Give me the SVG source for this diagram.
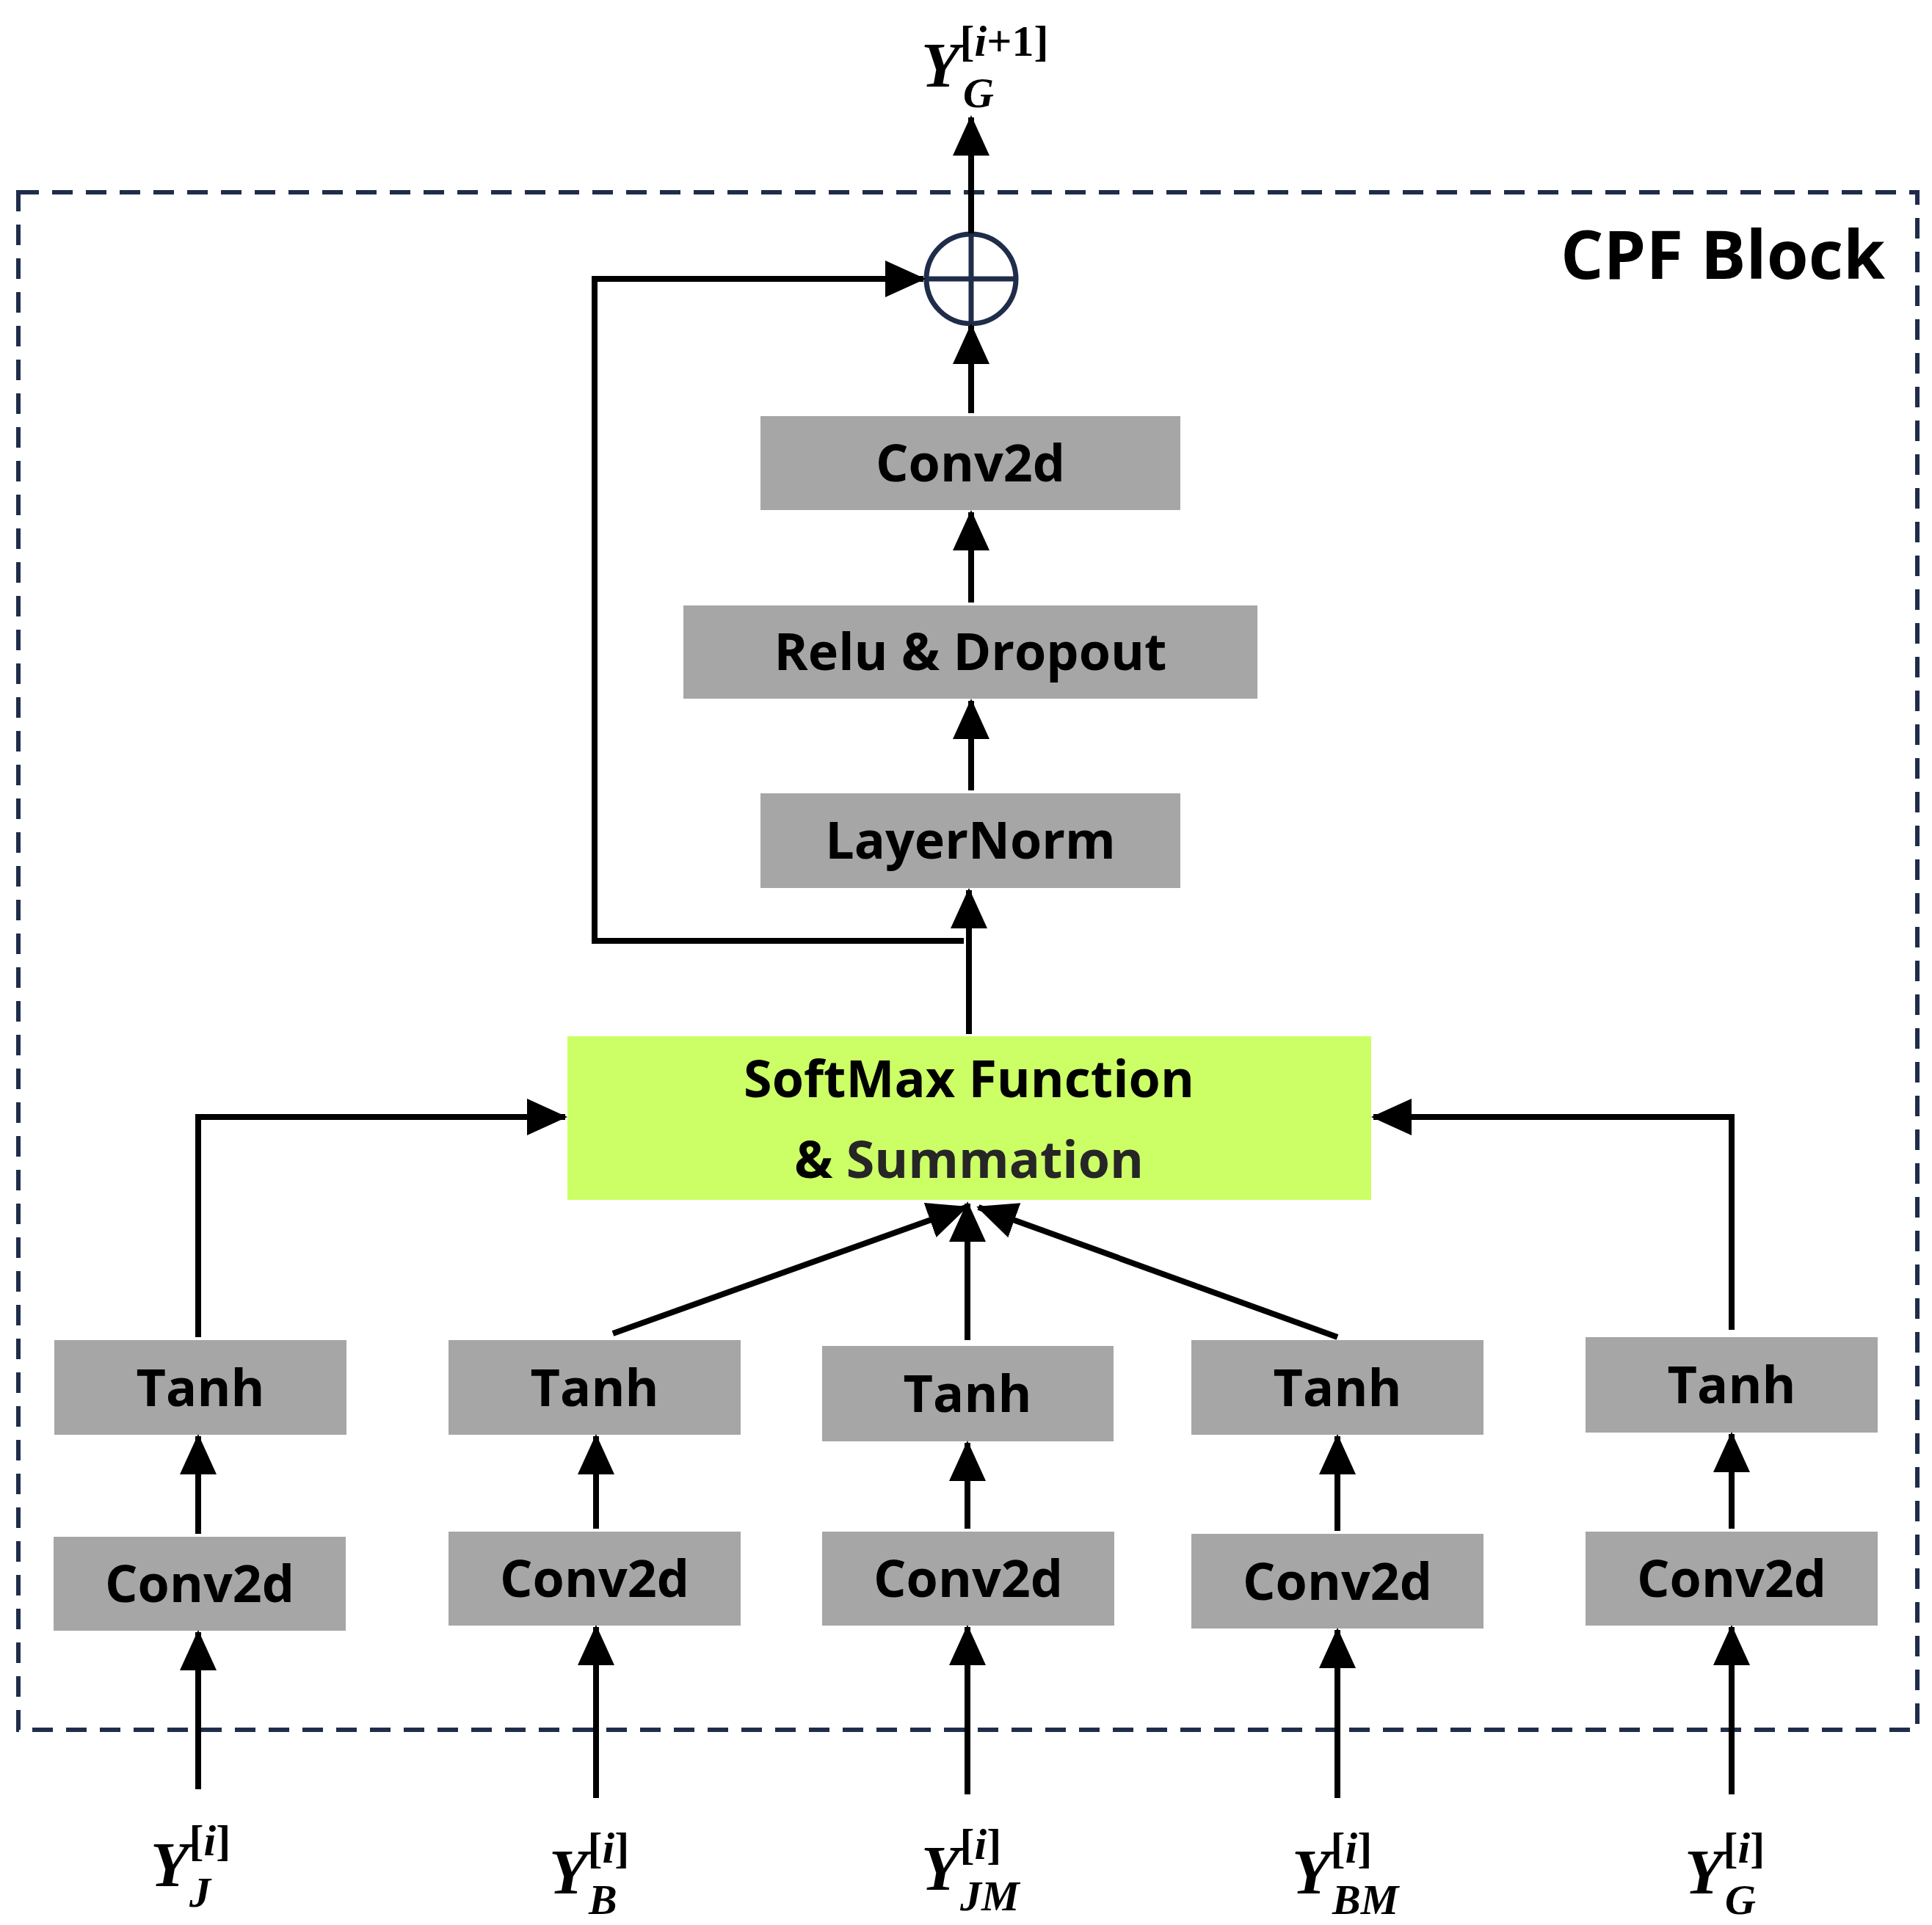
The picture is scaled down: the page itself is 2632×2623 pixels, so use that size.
<svg xmlns="http://www.w3.org/2000/svg" width="2632" height="2623" viewBox="0 0 2632 2623">
<style>
.box{fill:#A6A6A6}
.lbl{font-family:"Open Sans","Liberation Sans",sans-serif;font-weight:bold;font-size:70px;fill:#000;text-anchor:middle}
.ln{fill:none;stroke:#000;stroke-width:8}
.m{font-family:"Liberation Serif",serif;font-weight:bold;font-style:italic;font-size:86px;fill:#000}
.u{font-style:normal}
</style>
<defs>
<marker id="ah" markerUnits="userSpaceOnUse" markerWidth="60" markerHeight="60" viewBox="0 0 60 60" refX="52" refY="30" orient="auto">
<path d="M0,5 L55,30 L0,55 Z" fill="#000"/>
</marker>
</defs>
<rect width="2632" height="2623" fill="#fff"/>
<rect x="25" y="262" width="2587" height="2095" fill="none" stroke="#1F2D4A" stroke-width="6" stroke-dasharray="28,18"/>
<text x="2568" y="380" font-family="Open Sans, Liberation Sans, sans-serif" font-weight="bold" font-size="92" text-anchor="end">CPF Block</text>

<g id="conv_top"><rect class="box" x="1036" y="567" width="572" height="128"/><text class="lbl" x="1322" y="656">Conv2d</text></g>
<g id="relu"><rect class="box" x="931" y="825" width="782" height="127"/><text class="lbl" x="1322" y="913">Relu &amp; Dropout</text></g>
<g id="layernorm"><rect class="box" x="1036" y="1081" width="572" height="129"/><text class="lbl" x="1322" y="1170">LayerNorm</text></g>
<g id="softmax"><rect x="773" y="1412" width="1095" height="223" fill="#CCFF66"/><text class="lbl" x="1320" y="1495">SoftMax Function</text><text class="lbl" x="1320" y="1605">&amp; <tspan fill="#262626">Summation</tspan></text></g>
<g id="sum"><circle cx="1323" cy="380" r="61" fill="none" stroke="#1F2D4A" stroke-width="7"/><line x1="1262" y1="380" x2="1384" y2="380" stroke="#1F2D4A" stroke-width="7"/><line x1="1323" y1="319" x2="1323" y2="441" stroke="#1F2D4A" stroke-width="7"/></g>

<g id="tanh1"><rect class="box" x="74" y="1826" width="398" height="129"/><text class="lbl" x="273" y="1916">Tanh</text></g>
<g id="tanh2"><rect class="box" x="611" y="1826" width="398" height="129"/><text class="lbl" x="810" y="1916">Tanh</text></g>
<g id="tanh3"><rect class="box" x="1120" y="1834" width="397" height="130"/><text class="lbl" x="1318" y="1924">Tanh</text></g>
<g id="tanh4"><rect class="box" x="1623" y="1826" width="398" height="129"/><text class="lbl" x="1822" y="1916">Tanh</text></g>
<g id="tanh5"><rect class="box" x="2160" y="1822" width="398" height="130"/><text class="lbl" x="2359" y="1912">Tanh</text></g>

<g id="conv1"><rect class="box" x="73" y="2094" width="398" height="128"/><text class="lbl" x="272" y="2183">Conv2d</text></g>
<g id="conv2"><rect class="box" x="611" y="2087" width="398" height="128"/><text class="lbl" x="810" y="2176">Conv2d</text></g>
<g id="conv3"><rect class="box" x="1120" y="2087" width="398" height="128"/><text class="lbl" x="1319" y="2176">Conv2d</text></g>
<g id="conv4"><rect class="box" x="1623" y="2090" width="398" height="129"/><text class="lbl" x="1822" y="2180">Conv2d</text></g>
<g id="conv5"><rect class="box" x="2160" y="2087" width="398" height="128"/><text class="lbl" x="2359" y="2176">Conv2d</text></g>

<g id="connectors" class="ln">
<path class="ln" d="M270,2438 V2224" marker-end="url(#ah)"/>
<path class="ln" d="M812,2450 V2217" marker-end="url(#ah)"/>
<path class="ln" d="M1318,2445 V2217" marker-end="url(#ah)"/>
<path class="ln" d="M1822,2450 V2221" marker-end="url(#ah)"/>
<path class="ln" d="M2359,2445 V2217" marker-end="url(#ah)"/>
<path class="ln" d="M270,2090 V1957" marker-end="url(#ah)"/>
<path class="ln" d="M812,2083 V1957" marker-end="url(#ah)"/>
<path class="ln" d="M1318,2083 V1966" marker-end="url(#ah)"/>
<path class="ln" d="M1822,2086 V1957" marker-end="url(#ah)"/>
<path class="ln" d="M2359,2083 V1954" marker-end="url(#ah)"/>
<path class="ln" d="M270,1822 V1522 H770" marker-end="url(#ah)"/>
<path class="ln" d="M2359,1812 V1522 H1871" marker-end="url(#ah)"/>
<path class="ln" d="M835,1817 L1316,1645" marker-end="url(#ah)"/>
<path class="ln" d="M1318,1826 V1640" marker-end="url(#ah)"/>
<path class="ln" d="M1822,1822 L1333,1645" marker-end="url(#ah)"/>
<path class="ln" d="M1320,1409 V1213" marker-end="url(#ah)"/>
<path class="ln" d="M1313,1282 H810 V380 H1258" marker-end="url(#ah)"/>
<path class="ln" d="M1323,1077 V955" marker-end="url(#ah)"/>
<path class="ln" d="M1323,821 V698" marker-end="url(#ah)"/>
<path class="ln" d="M1323,563 V444" marker-end="url(#ah)"/>
<path class="ln" d="M1323,318 V160" marker-end="url(#ah)"/>
</g>

<g id="labels">
<text class="m" x="1255" y="118">Y<tspan font-size="60" dy="-42"><tspan class="u">[</tspan>i<tspan class="u">+1]</tspan></tspan><tspan font-size="58" x="1312" dy="70">G</tspan></text>
<text class="m" x="205" y="2570">Y<tspan font-size="60" dy="-42"><tspan class="u">[</tspan>i<tspan class="u">]</tspan></tspan><tspan font-size="58" x="258" dy="70">J</tspan></text>
<text class="m" x="748" y="2580">Y<tspan font-size="60" dy="-42"><tspan class="u">[</tspan>i<tspan class="u">]</tspan></tspan><tspan font-size="58" x="802" dy="70">B</tspan></text>
<text class="m" x="1255" y="2575">Y<tspan font-size="60" dy="-42"><tspan class="u">[</tspan>i<tspan class="u">]</tspan></tspan><tspan font-size="58" x="1308" dy="70">JM</tspan></text>
<text class="m" x="1760" y="2580">Y<tspan font-size="60" dy="-42"><tspan class="u">[</tspan>i<tspan class="u">]</tspan></tspan><tspan font-size="58" x="1815" dy="70">BM</tspan></text>
<text class="m" x="2295" y="2580">Y<tspan font-size="60" dy="-42"><tspan class="u">[</tspan>i<tspan class="u">]</tspan></tspan><tspan font-size="58" x="2350" dy="70">G</tspan></text>
</g>
</svg>
